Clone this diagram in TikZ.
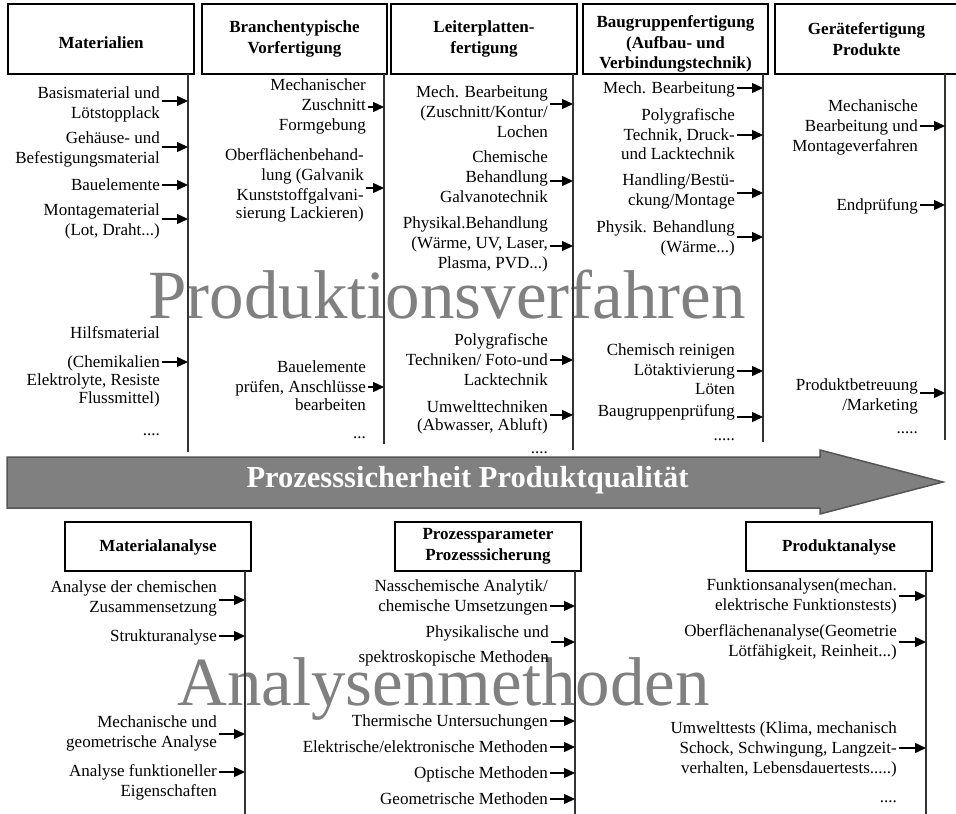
\documentclass[tikz,border=0pt]{standalone}
\usepackage{fontspec}
\setmainfont{Liberation Serif}
\usetikzlibrary{arrows.meta}
\definecolor{wm}{HTML}{808080}
\definecolor{vl}{HTML}{333333}
\definecolor{ad}{HTML}{555555}
\tikzset{
 itm/.style={font=\fontsize{17}{20}\selectfont, align=right, inner xsep=2pt, inner ysep=0pt, anchor=north east},
 arr/.style={line width=1.4pt, -{Triangle[length=11pt,width=10pt]}},
 hdrbox/.style={draw, line width=2.4pt, inner sep=0pt},
 hdrtxt/.style={font=\bfseries\fontsize{17}{20.5}\selectfont, align=center, inner sep=0pt},
 vline/.style={line width=1.5pt, draw=vl},
 wmark/.style={text=wm, font=\fontsize{69}{69}\selectfont, inner sep=0pt, anchor=base west},
}
\newcommand\colitem[6]{%
 \node[itm] (#1) at (#2+2,#3-10) {\rule{0pt}{15pt}#4};
 \draw[arr] (#1.east |- 0,#5) -- (#6 |- 0,#5);}
\begin{document}
\begin{tikzpicture}[x=1pt,y=-1pt]
\useasboundingbox (0,0) rectangle (956,814);
% watermarks
\node[wmark] (wm1) at (148,318) {Produktionsverfahren};
\node[wmark] (wm2) at (177,705) {Analysenmethoden};
% top headers
\node[hdrbox, minimum width=186, minimum height=70] (h1) at (101,39) {};
\node[hdrtxt] (h1t) at ([yshift=-4pt]h1.center) {Materialien};
\node[hdrbox, minimum width=185, minimum height=70] (h2) at (294.5,39) {};
\node[hdrtxt] (h2t) at (h2.center) {Branchentypische\\Vorfertigung};
\node[hdrbox, minimum width=186, minimum height=70] (h3) at (484,39) {};
\node[hdrtxt] (h3t) at (h3.center) {Leiterplatten-\\fertigung};
\node[hdrbox, minimum width=185, minimum height=70] (h4) at (675.5,39) {};
\node[hdrtxt] (h4t) at ([yshift=-5pt]h4.center) {Baugruppenfertigung\\(Aufbau- und\\Verbindungstechnik)};
\node[hdrbox, minimum width=183, minimum height=70] (h5) at (866.5,39) {};
\node[hdrtxt] (h5t) at (h5.center) {Gerätefertigung\\Produkte};
% top vertical lines
\coordinate (v1t) at (188,74); \coordinate (v1b) at (188,452);
\coordinate (v2t) at (384,74); \coordinate (v2b) at (384,444);
\coordinate (v3t) at (573,74); \coordinate (v3b) at (573,450);
\coordinate (v4t) at (763,74); \coordinate (v4b) at (763,442);
\coordinate (v5t) at (945,74); \coordinate (v5b) at (945,440);
\foreach \c in {1,...,5} {\draw[vline] (v\c t) -- (v\c b);}
% column 1
\colitem{a1}{160}{93}{Basismaterial und\\Lötstopplack}{101}{v1t}
\colitem{a2}{160}{138}{Gehäuse- und\\Befestigungsmaterial}{147}{v1t}
\colitem{a3}{160}{185}{Bauelemente}{185}{v1t}
\colitem{a4}{160}{210}{Montagematerial\\(Lot, Draht...)}{219}{v1t}
\colitem{a5}{160}{333}{Hilfsmaterial\\[9pt](Chemikalien\\[-2pt]Elektrolyte, Resiste\\[-2pt]Flussmittel)\\[12pt]....}{362}{v1t}
% column 2
\colitem{b1}{366}{85}{Mechanischer\\Zuschnitt\\Formgebung}{107}{v2t}
\colitem{b2}{364}{155}{Oberflächenbehand-\\lung (Galvanik\\Kunststoffgalvani-\\[-2pt]sierung Lackieren)}{188}{v2t}
\colitem{b3}{366}{367}{Bauelemente\\prüfen, Anschlüsse\\[-2pt]bearbeiten\\[8pt]...}{387}{v2t}
% column 3
\colitem{c1}{548}{92}{Mech. Bearbeitung\\(Zuschnitt/Kontur/\\Lochen}{104}{v3t}
\colitem{c2}{548}{157}{Chemische\\Behandlung\\Galvanotechnik}{181}{v3t}
\colitem{c3}{548}{223}{Physikal.Behandlung\\(Wärme, UV, Laser,\\Plasma, PVD...)}{246}{v3t}
\colitem{c4}{548}{340}{Polygrafische\\Techniken/ Foto-und\\Lacktechnik}{360}{v3t}
\colitem{c5}{548}{407}{Umwelttechniken\\[-2pt](Abwasser, Abluft)\\[3pt]....}{415}{v3t}
% column 4
\colitem{d1}{735}{88}{Mech. Bearbeitung}{88}{v4t}
\colitem{d2}{735}{115}{Polygrafische\\Technik, Druck-\\[-1pt]und Lacktechnik}{135}{v4t}
\colitem{d3}{735}{180}{Handling/Bestü-\\ckung/Montage}{193}{v4t}
\colitem{d4}{735}{227}{Physik. Behandlung\\(Wärme...)}{237}{v4t}
\colitem{d5}{735}{350}{Chemisch reinigen\\Lötaktivierung\\[-1pt]Löten}{371}{v4t}
\colitem{d6}{735}{411}{Baugruppenprüfung\\[4pt].....}{417}{v4t}
% column 5
\colitem{e1}{918}{106}{Mechanische\\Bearbeitung und\\Montageverfahren}{126}{v5t}
\colitem{e2}{918}{205}{Endprüfung}{205}{v5t}
\colitem{e3}{918}{385}{Produktbetreuung\\/Marketing\\[3pt].....}{393}{v5t}
% big arrow
\draw[fill=wm, draw=ad, line width=1.5pt] (7,457) -- (820,457) -- (820,450) -- (943,482) -- (820,514) -- (820,508) -- (7,508) -- cycle;
\node[font=\bfseries\fontsize{30.5}{32}\selectfont, text=white, anchor=base, inner sep=0pt] (pq) at (467.5,487) {Prozesssicherheit Produktqualität};
% bottom headers
\node[hdrbox, minimum width=186, minimum height=49] (g1) at (158,546.5) {};
\node[hdrtxt] (g1t) at ([yshift=-1pt]g1.center) {Materialanalyse};
\node[hdrbox, minimum width=186, minimum height=49] (g2) at (488,546.5) {};
\node[hdrtxt] (g2t) at (g2.center) {Prozessparameter\\Prozesssicherung};
\node[hdrbox, minimum width=186, minimum height=49] (g3) at (839,546.5) {};
\node[hdrtxt] (g3t) at ([yshift=-1pt]g3.center) {Produktanalyse};
\coordinate (wAt) at (245,571); \coordinate (wAb) at (245,814);
\coordinate (wBt) at (575,571); \coordinate (wBb) at (575,814);
\coordinate (wCt) at (926,571); \coordinate (wCb) at (926,814);
\foreach \c in {A,B,C} {\draw[vline] (w\c t) -- (w\c b);}
% column A
\colitem{p1}{217}{587}{Analyse der chemischen\\Zusammensetzung}{600}{wAt}
\colitem{p2}{217}{636}{Strukturanalyse}{636}{wAt}
\colitem{p3}{217}{722}{Mechanische und\\geometrische Analyse}{734}{wAt}
\colitem{p4}{217}{771}{Analyse funktioneller\\Eigenschaften}{772}{wAt}
% column B
\colitem{q1}{548}{586}{Nasschemische Analytik/\\chemische Umsetzungen}{606}{wBt}
\colitem{q2}{549}{632}{Physikalische und\\[5pt]spektroskopische Methoden}{642}{wBt}
\colitem{q3}{548}{721}{Thermische Untersuchungen}{721}{wBt}
\colitem{q4}{548}{747}{Elektrische/elektronische Methoden}{747}{wBt}
\colitem{q5}{548}{773}{Optische Methoden}{773}{wBt}
\colitem{q6}{548}{799}{Geometrische Methoden}{799}{wBt}
% column C
\colitem{r1}{897}{585}{Funktionsanalysen(mechan.\\elektrische Funktionstests)}{596}{wCt}
\colitem{r2}{897}{631}{Oberflächenanalyse(Geometrie\\Lötfähigkeit, Reinheit...)}{642}{wCt}
\colitem{r3}{897}{728}{Umwelttests (Klima, mechanisch\\Schock, Schwingung, Langzeit-\\verhalten, Lebensdauertests.....)\\[9pt]....}{748}{wCt}
\end{tikzpicture}
\end{document}
